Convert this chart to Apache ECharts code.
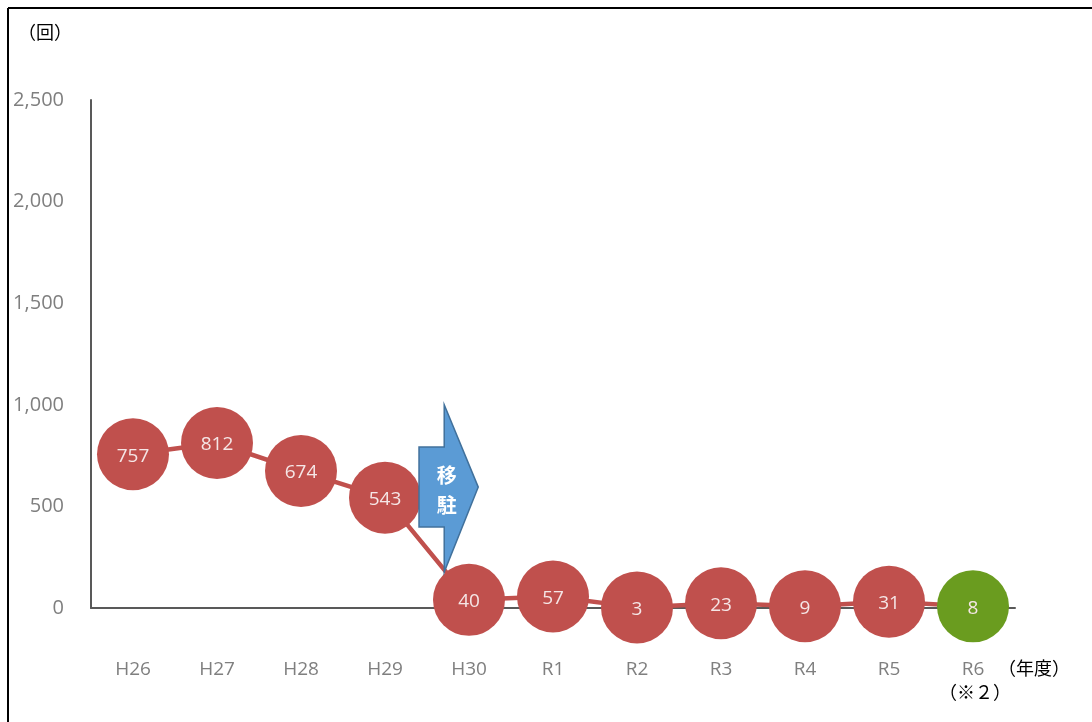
<!DOCTYPE html>
<html>
<head>
<meta charset="utf-8">
<script src="https://cdn.jsdelivr.net/npm/echarts@6/dist/echarts.min.js"></script>
<style>
html,body{margin:0;padding:0;background:#fff;}
#c{width:1092px;height:722px;}
</style>
</head>
<body>
<div id="c"></div>
<script>
var categories = ['H26','H27','H28','H29','H30','R1','R2','R3','R4','R5','R6'];
var values = [757, 812, 674, 543, 40, 57, 3, 23, 9, 31, 8];
var yTicks = [0, 500, 1000, 1500, 2000, 2500];
var highlightIndex = 10; // R6 (※2)

var RED = '#c0504d', GREEN = '#6a9c1f';
var chart = echarts.init(document.getElementById('c'));

var seriesData = values.map(function (v, i) {
  return i === highlightIndex ? { value: v, itemStyle: { color: GREEN } } : v;
});

chart.setOption({
  animation: false,
  backgroundColor: '#fff',
  grid: { left: 91, right: 77, top: 100, bottom: 114 },
  xAxis: {
    type: 'category',
    data: categories,
    boundaryGap: true,
    axisLine: { lineStyle: { color: '#595959', width: 2 } },
    axisTick: { show: false },
    axisLabel: {
      color: '#7f7f7f', fontSize: 19, fontFamily: 'Open Sans', margin: 52,
      formatter: function (v) { return v; }
    }
  },
  yAxis: {
    type: 'value',
    min: yTicks[0], max: yTicks[yTicks.length - 1], interval: 500,
    axisLine: { show: true, lineStyle: { color: '#595959', width: 2 } },
    axisTick: { show: false },
    splitLine: { show: false },
    axisLabel: {
      color: '#7f7f7f', fontSize: 20, fontFamily: 'Open Sans', margin: 27,
      formatter: function (v) { return v.toLocaleString('en-US'); }
    }
  },
  series: [{
    type: 'line',
    data: seriesData,
    symbol: 'circle',
    symbolSize: 72,
    lineStyle: { color: RED, width: 4.5 },
    itemStyle: { color: RED },
    label: {
      show: true, position: 'inside', offset: [0, 2],
      color: '#f5e6e6', fontSize: 19, fontFamily: 'Open Sans'
    },
    z: 3
  }]
});

function drawExtras() {
  var p = function (c, v) { return chart.convertToPixel({ xAxisIndex: 0, yAxisIndex: 0 }, [c, v]); };
  var a = p('H29', 0), b = p('H30', 0);
  var cw = b[0] - a[0];
  var left = a[0] + cw * 0.405, bodyR = left + cw * 0.3, tip = left + cw * 0.705;
  var yTop = p('H29', 1000)[1], yBot = p('H29', 177)[1];
  var bTop = p('H29', 792)[1], bBot = p('H29', 399)[1], yTip = p('H29', 595)[1];
  var R6 = p('R6', 0);
  chart.setOption({
    graphic: [
      { type: 'line', shape: { x1: 8, y1: 8, x2: 1092, y2: 8 }, style: { stroke: '#000', lineWidth: 2 } },
      { type: 'line', shape: { x1: 8, y1: 8, x2: 8, y2: 722 }, style: { stroke: '#000', lineWidth: 2 } },
      { type: 'text', left: 18, top: 23, style: { text: '（回）', font: '18px "Noto Sans CJK JP"', fill: '#000' } },
      {
        type: 'polygon', z: 10,
        shape: { points: [[left, bTop], [bodyR, bTop], [bodyR, yTop], [tip, yTip], [bodyR, yBot], [bodyR, bBot], [left, bBot]] },
        style: { fill: '#5b9bd5', stroke: '#41719c', lineWidth: 1.5 }
      },
      { type: 'text', z: 11, x: (left + tip) / 2 - 2, y: yTip - 12, style: { text: '移', font: 'bold 20px "Noto Sans CJK JP"', fill: '#fff', align: 'center', verticalAlign: 'middle' } },
      { type: 'text', z: 11, x: (left + tip) / 2 - 2, y: yTip + 18, style: { text: '駐', font: 'bold 20px "Noto Sans CJK JP"', fill: '#fff', align: 'center', verticalAlign: 'middle' } },
      { type: 'text', x: R6[0] + 61, y: R6[1] + 60, style: { text: '（年度）', font: '18px "Noto Sans CJK JP"', fill: '#000', align: 'center', verticalAlign: 'middle' } },
      { type: 'text', x: R6[0] + 2, y: R6[1] + 84, style: { text: '（※２）', font: '18px "Noto Sans CJK JP"', fill: '#000', align: 'center', verticalAlign: 'middle' } }
    ]
  });
}
drawExtras();
</script>
</body>
</html>
